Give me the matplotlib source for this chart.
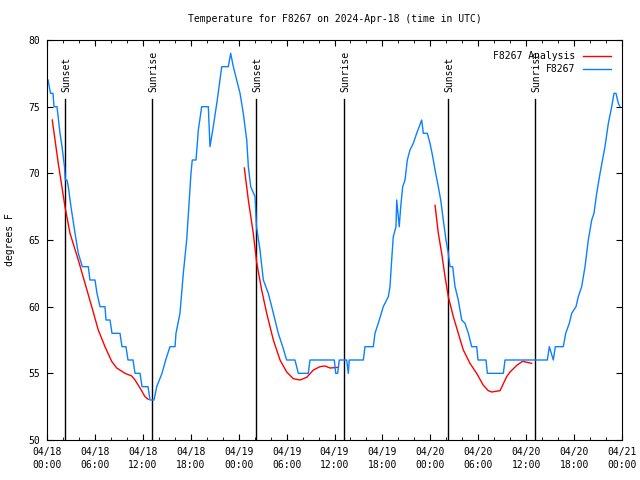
import numpy as np
import matplotlib

matplotlib.use("Agg")

import matplotlib.pyplot as plt

# ---------------------------------------------------------------------------
#  data (hours since 2024-04-18 00:00 UTC, degrees F)  ------------------------
# ---------------------------------------------------------------------------
obs_hours = [
    0.13, 0.44, 0.75, 0.88, 1.25, 1.63, 1.88, 2.19, 2.29, 2.50, 2.67, 3.00,
    3.38, 3.51, 3.92, 4.42, 5.17, 5.38, 6.01, 6.26, 6.64, 7.26, 7.39, 7.89,
    8.14, 9.14, 9.39, 9.89, 10.14, 10.77, 11.02, 11.65, 11.90, 12.65, 12.90,
    13.40, 13.74, 14.40, 14.86, 15.40, 16.03, 16.15, 16.65, 17.07, 17.49,
    17.82, 18.03, 18.19, 18.66, 18.95, 19.37, 20.20, 20.41, 20.82, 21.32,
    21.88, 22.70, 23.00, 23.33, 24.17, 24.58, 25.01, 25.21, 25.51, 26.05,
    26.23, 26.67, 27.09, 27.71, 28.14, 28.55, 28.96, 29.51, 30.01, 31.05,
    31.47, 32.72, 32.93, 35.98, 36.15, 36.40, 36.60, 37.53, 37.73, 37.85,
    39.61, 39.82, 40.86, 41.07, 41.61, 42.11, 42.74, 42.95, 43.16, 43.36,
    43.70, 43.79, 44.11, 44.29, 44.54, 44.83, 45.12, 45.45, 45.87, 46.29,
    46.92, 47.12, 47.62, 47.96, 48.30, 48.59, 49.00, 49.30, 49.62, 49.96,
    50.25, 50.46, 50.80, 51.09, 51.50, 51.93, 52.34, 52.76, 53.18, 53.81,
    53.97, 54.97, 55.14, 57.14, 57.35, 62.65, 62.90, 63.40, 63.65, 64.65,
    64.95, 65.40, 65.70, 66.24, 66.53, 66.95, 67.37, 67.78, 68.21, 68.49,
    68.83, 69.25, 69.87, 70.29, 70.71, 71.00, 71.25, 71.54, 71.75,
]
obs_temp = [
    77, 76, 76, 75, 75, 73, 72, 70.5, 69.5, 69.5, 69, 67.5,
    66, 65.5, 64, 63, 63, 62, 62, 61, 60, 60, 59, 59,
    58, 58, 57, 57, 56, 56, 55, 55, 54, 54, 53,
    53, 54, 55, 56, 57, 57, 58, 59.5, 62.5, 65,
    68, 70, 71, 71, 73.25, 75, 75, 72, 73.5, 75.5,
    78, 78, 79, 78, 76, 74.5, 72.5, 70.5, 69, 68.25,
    66, 64.25, 62, 61, 60, 59, 58, 57, 56, 56,
    55, 55, 56, 56, 55, 55, 56, 56, 55, 56,
    56, 57, 57, 58, 59, 60, 60.75, 61.5, 63.5, 65.25,
    66, 68, 66, 67.5, 69, 69.5, 71, 71.75, 72.25, 73,
    74, 73, 73, 72.25, 71.25, 70.25, 69, 68, 66.5, 65,
    64, 63, 63, 61.5, 60.5, 59, 58.75, 58, 57, 57,
    56, 56, 55, 55, 56, 56, 57, 56, 57, 57,
    58, 58.75, 59.5, 60, 60.75, 61.5, 63, 65, 66.5, 67,
    68.5, 70, 72, 73.75, 75, 76, 76, 75.25, 75,
]

# analysis curve, three night-time pieces separated by gaps (nan)
fit_hours = [
    0.66, 1.41, 2.25, 2.88, 3.92, 4.76, 5.60, 6.42, 7.26, 8.10, 8.73, 9.77,
    10.61, 11.02, 11.65, 12.27, 12.68, np.nan,
    24.71, 25.21, 25.83, 26.26, 26.88, 27.51, 28.34, 29.18, 30.01, 30.84,
    31.68, 32.52, 33.35, 34.18, 34.81, 35.44, 36.48, np.nan,
    48.59, 49.00, 49.42, 49.84, 50.25, 50.88, 51.50, 52.13, 52.96, 53.80,
    54.64, 55.26, 55.69, 56.73, 57.56, 57.98, 58.82, 59.55, 60.69,
]
fit_temp = [
    74, 70.75, 67.5, 65.5, 63.5, 61.75, 60, 58.25, 57, 55.9, 55.4, 55,
    54.8, 54.5, 53.9, 53.25, 53.05, np.nan,
    70.4, 68, 65.5, 63.3, 61.25, 59.5, 57.5, 56, 55.1, 54.6,
    54.5, 54.7, 55.25, 55.5, 55.55, 55.4, 55.45, np.nan,
    67.6, 65.5, 64, 62.25, 60.75, 59.25, 58, 56.75, 55.75, 55,
    54.1, 53.7, 53.6, 53.7, 54.75, 55.1, 55.6, 55.9, 55.75,
]

sunset_hours = [2.29, 26.21, 50.25]
sunrise_hours = [13.19, 37.22, 61.15]

tick_hours = list(range(0, 73, 6))
tick_labels = [
    "04/18\n00:00", "04/18\n06:00", "04/18\n12:00", "04/18\n18:00",
    "04/19\n00:00", "04/19\n06:00", "04/19\n12:00", "04/19\n18:00",
    "04/20\n00:00", "04/20\n06:00", "04/20\n12:00", "04/20\n18:00",
    "04/21\n00:00",
]

# ---------------------------------------------------------------------------
#  figure  -------------------------------------------------------------------
# ---------------------------------------------------------------------------
plt.rcParams["font.family"] = "DejaVu Sans Mono"
plt.rcParams["font.size"] = 7

fig = plt.figure(figsize=(6.4, 4.8), dpi=100)
ax = fig.add_axes([47 / 640, 40 / 480, 575 / 640, 400 / 480])

for h in sunset_hours:
    ax.plot([h, h], [50, 75.57], color="black", lw=1.0)
    ax.text(h + 0.1, 76.1, "Sunset", rotation=90, ha="center", va="bottom")
for h in sunrise_hours:
    ax.plot([h, h], [50, 75.57], color="black", lw=1.0)
    ax.text(h + 0.1, 76.1, "Sunrise", rotation=90, ha="center", va="bottom")

ax.plot(fit_hours, fit_temp, color="#ff0000", lw=1.0, label="F8267 Analysis")
ax.plot(obs_hours, obs_temp, color="#0a80ff", lw=1.0, label="F8267")

ax.set_xlim(0, 72)
ax.set_ylim(50, 80)
ax.set_xticks(tick_hours)
ax.set_xticklabels(tick_labels, linespacing=1.4)
ax.set_xticks(range(0, 73, 2), minor=True)
ax.set_yticks(range(50, 81, 5))
ax.tick_params(axis="both", which="both", direction="in", top=True, right=True)
ax.tick_params(axis="x", which="major", length=4.5, pad=5)
ax.tick_params(axis="x", which="minor", length=2.2)
ax.tick_params(axis="y", which="major", length=4.5, pad=5)

leg = ax.legend(loc="upper right", frameon=False, markerfirst=False,
                handlelength=2.9, borderaxespad=0.75, labelspacing=0.3,
                handletextpad=0.8)
for t in leg.get_texts():
    t.set_ha("right")

fig.text(334.5 / 640, 1 - 19 / 480, "Temperature for F8267 on 2024-Apr-18 (time in UTC)",
         ha="center", va="center")
fig.text(10 / 640, 0.5, "degrees F", rotation=90, ha="center", va="center")

fig.savefig("out.png", dpi=100)
